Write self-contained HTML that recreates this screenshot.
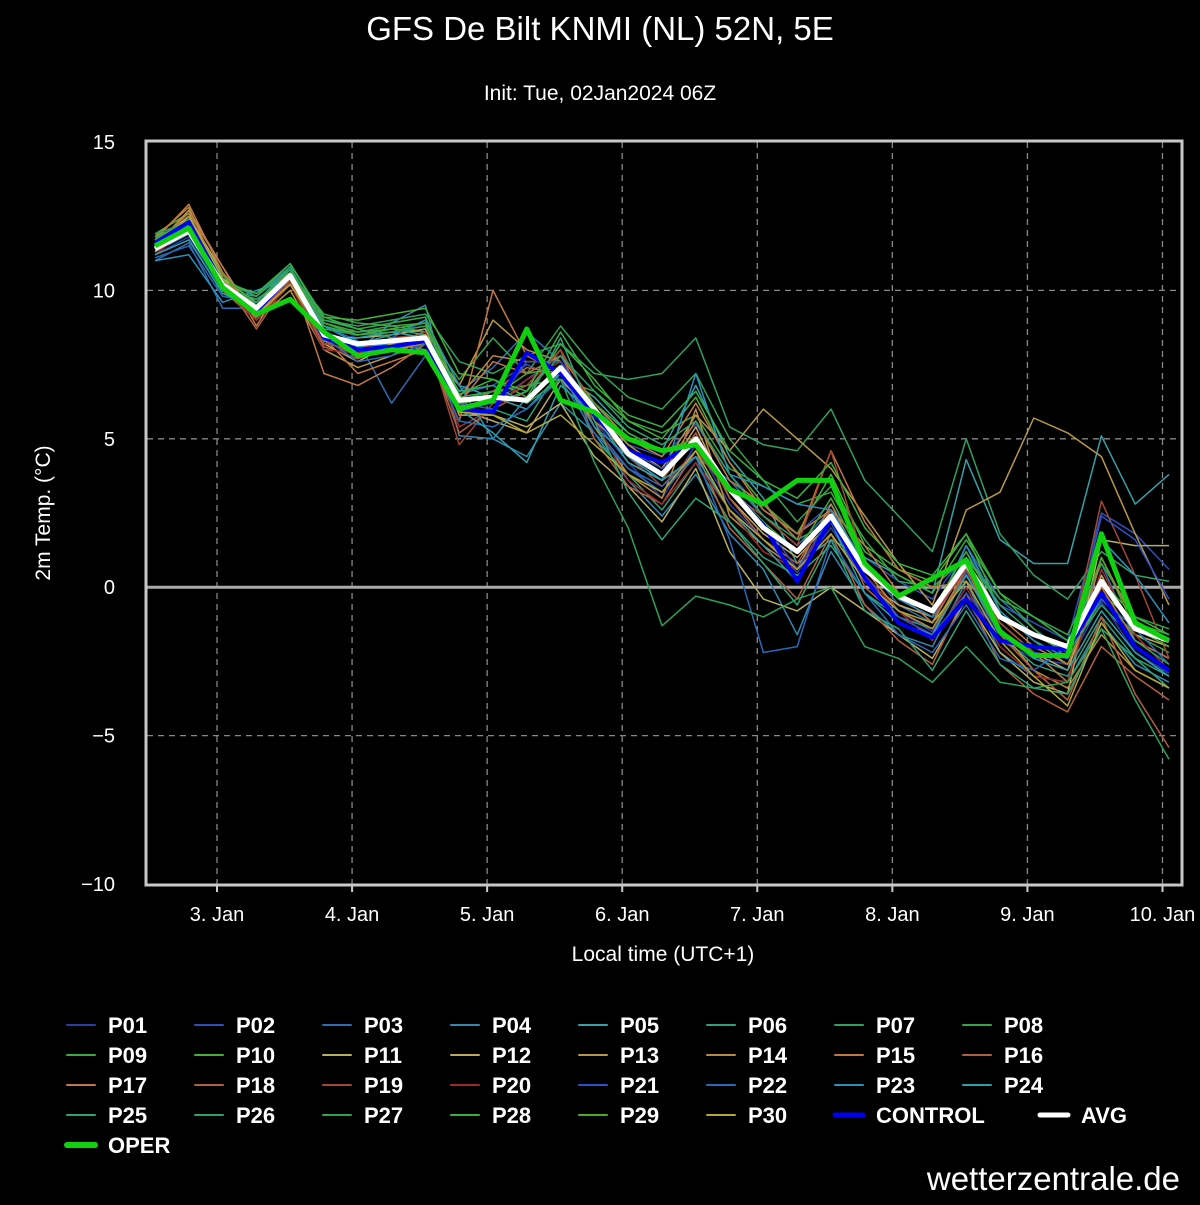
<!DOCTYPE html>
<html><head><meta charset="utf-8"><style>
html,body{margin:0;padding:0;background:#000;}
body{width:1200px;height:1200px;overflow:hidden;position:relative;font-family:"Liberation Sans",sans-serif;}
</style></head><body>
<svg id="chart" width="1200" height="1200" xmlns="http://www.w3.org/2000/svg" font-family="Liberation Sans, sans-serif">
<rect width="1200" height="1200" fill="#000"/>
<text x="600" y="40" fill="#fff" font-size="33" text-anchor="middle">GFS De Bilt KNMI (NL) 52N, 5E</text>
<text x="600" y="100" fill="#fff" font-size="21" text-anchor="middle">Init: Tue, 02Jan2024 06Z</text>
<text transform="translate(50,513) rotate(-90)" fill="#fff" font-size="21" text-anchor="middle">2m Temp. (°C)</text>
<text x="663" y="961" fill="#fff" font-size="21" text-anchor="middle">Local time (UTC+1)</text>
<text x="1180" y="1190" fill="#fff" font-size="33" text-anchor="end">wetterzentrale.de</text>
<g id="grid"></g><g id="series"></g><g id="axes"></g><g id="legend"></g>
</svg>
<script>
const yTicks=[15,10,5,0,-5,-10];
const dayLabels=["3. Jan","4. Jan","5. Jan","6. Jan","7. Jan","8. Jan","9. Jan","10. Jan"];
const oper=[11.5,12.1,10.1,9.2,9.7,8.6,7.8,8.0,7.9,6.0,6.3,8.7,6.3,5.9,5.0,4.6,4.8,3.3,2.8,3.6,3.6,0.8,-0.3,0.3,0.9,-1.5,-2.3,-2.3,1.8,-1.2,-1.8];
const avg=[11.4,12.0,10.2,9.4,10.5,8.5,8.2,8.3,8.4,6.3,6.4,6.3,7.4,6.0,4.5,3.8,5.0,3.3,2.0,1.2,2.4,0.6,-0.3,-0.8,0.8,-1.0,-1.6,-2.0,0.2,-1.4,-1.8];
const control=[11.6,12.3,10.2,9.3,10.5,8.4,8.0,8.1,8.3,6.0,5.9,7.9,7.2,5.8,4.6,4.2,4.9,3.3,2.1,0.2,2.3,0.3,-1.2,-1.7,-0.4,-1.8,-2.0,-2.1,-0.2,-2.0,-2.8];
const members=[
[11.2,11.8,10.0,9.6,10.4,8.2,8.5,8.6,8.8,6.0,6.2,7.0,7.8,5.6,4.2,3.0,4.8,2.8,1.6,0.5,2.0,0.2,-0.8,-1.5,0.5,-1.8,-2.4,-2.6,-0.5,-2.2,-2.9],
[11.5,12.4,10.4,9.0,10.6,8.0,7.9,8.4,9.0,6.5,6.8,7.5,7.0,6.2,4.8,4.4,5.5,3.8,2.6,1.8,2.8,1.0,0.2,-0.4,1.2,-0.6,-1.2,-1.8,2.5,1.8,0.6],
[11.0,11.6,9.4,9.4,10.2,8.8,8.3,6.2,7.8,6.6,7.4,8.6,7.6,5.4,4.0,3.2,4.4,3.6,2.4,1.4,2.6,0.8,-0.6,-1.2,1.4,-0.4,-1.4,-2.2,0.8,-1.8,-2.4],
[11.3,11.9,10.3,9.8,10.8,8.4,8.0,8.9,9.5,5.1,5.0,4.4,6.2,5.2,3.6,2.4,3.8,1.8,0.6,-1.6,1.2,-0.6,-1.6,-2.0,0.2,-2.2,-3.0,-3.2,-1.2,-2.6,-3.2],
[11.6,12.2,10.6,9.2,10.4,8.6,8.1,8.2,8.0,6.8,6.4,6.0,7.2,6.4,5.2,4.6,6.8,4.4,3.0,0.8,1.6,1.0,0.4,-0.2,4.3,1.6,0.8,0.8,5.1,2.8,3.8],
[11.4,12.0,10.1,9.6,10.7,8.7,8.6,8.7,8.6,6.2,6.0,5.6,7.4,5.0,3.8,2.6,4.2,2.2,1.0,0.4,1.4,-0.2,-1.0,-1.4,0.4,-1.6,-2.6,-3.0,-1.0,-2.4,-3.0],
[11.8,12.3,10.4,9.8,10.9,9.0,8.8,9.0,9.2,7.6,7.2,7.8,8.2,7.2,7.0,7.2,8.4,5.4,4.8,4.6,6.0,3.6,2.4,1.2,5.0,1.8,0.4,-0.4,1.2,0.4,0.2],
[11.9,12.1,10.2,9.9,10.6,9.2,8.9,8.8,8.6,7.0,8.4,7.2,8.8,7.4,6.4,6.0,7.2,5.0,3.6,2.2,3.4,1.6,0.2,0.0,1.0,-0.4,-1.0,-1.6,0.8,-1.0,-1.4],
[11.7,12.2,10.3,9.5,10.6,8.9,8.6,8.8,8.9,6.4,6.6,6.8,7.0,6.6,5.6,5.2,5.8,4.0,3.4,2.8,3.2,1.2,0.4,-0.2,1.6,-0.2,-1.4,-2.4,-0.4,-1.6,-2.2],
[11.9,12.6,10.0,9.7,10.4,9.1,9.0,9.2,9.4,7.2,7.0,6.4,8.2,7.0,5.6,5.0,6.4,4.2,2.8,1.8,3.8,1.4,0.6,0.2,1.8,-0.8,-1.8,-2.6,-0.2,-1.2,-1.6],
[11.4,12.0,10.4,9.6,10.6,8.4,8.4,8.5,8.7,5.8,5.8,5.4,6.2,4.4,3.4,2.2,4.0,1.2,-0.4,-0.8,0.0,-0.8,-1.6,-2.4,-0.4,-2.2,-3.2,-3.6,1.6,1.4,1.4],
[11.6,12.5,10.6,9.2,10.2,8.2,7.6,8.2,8.6,6.0,5.6,5.2,7.0,5.8,4.4,3.6,5.4,3.0,1.8,1.0,2.2,0.2,-0.6,-1.0,0.6,-1.2,-2.2,-2.8,0.4,-1.6,-2.0],
[11.5,12.7,10.8,9.0,10.0,8.0,7.4,7.8,8.4,6.8,9.0,8.0,7.6,6.0,4.8,4.0,5.8,4.6,6.0,5.0,4.0,2.4,0.8,-0.6,2.6,3.2,5.7,5.2,4.4,1.8,-0.6],
[11.8,12.8,10.2,9.4,10.4,8.6,7.8,8.0,8.2,6.4,7.8,7.6,7.6,5.4,3.8,3.0,6.0,2.4,1.4,0.6,2.8,0.6,-0.8,-1.4,0.6,-1.4,-2.8,-3.4,-1.6,-2.8,-3.4],
[11.7,12.9,10.6,9.1,10.2,8.4,7.2,7.6,8.0,5.6,10.0,7.8,7.2,5.6,4.6,3.8,5.6,3.6,2.8,1.6,4.6,2.2,0.6,0.0,0.2,-1.0,-2.0,-2.6,0.0,-1.8,-2.4],
[11.3,12.2,10.0,9.0,10.3,8.1,7.7,8.1,8.3,5.2,6.0,6.6,8.0,5.0,3.4,2.8,4.6,2.0,0.8,-0.4,1.8,-0.6,-1.8,-2.6,-0.2,-2.6,-3.6,-4.2,-2.0,-3.0,-3.8],
[11.6,12.6,10.8,8.8,10.6,7.2,6.8,7.4,8.2,6.2,7.6,7.2,7.8,6.2,5.0,4.4,6.2,4.2,2.6,1.8,2.6,1.4,-0.2,-1.2,0.8,-1.2,-2.2,-3.2,1.0,-1.2,-1.8],
[11.4,12.3,10.4,8.7,10.4,8.3,7.8,8.0,8.3,6.1,6.6,7.4,7.2,5.8,4.2,3.6,5.2,3.0,1.6,0.8,2.6,0.0,-1.0,-1.6,0.6,-1.6,-2.8,-3.8,-1.0,-3.6,-5.4],
[11.3,12.0,10.3,9.2,10.3,8.2,8.0,8.4,8.5,4.8,6.2,6.8,8.0,6.0,4.4,3.4,4.6,3.2,2.4,1.4,4.6,0.8,-0.4,-1.0,0.6,-1.2,-2.2,-2.4,2.9,0.4,-2.4],
[11.2,12.1,10.1,9.0,10.2,8.0,7.9,8.1,8.6,5.4,6.0,7.0,7.6,5.6,3.6,2.8,4.2,2.6,1.2,0.6,2.2,0.4,-0.8,-1.8,0.0,-2.0,-3.0,-3.2,0.6,-1.6,-2.8],
[11.7,12.4,10.3,9.4,10.6,8.6,8.2,8.2,8.4,6.2,6.0,7.6,7.6,6.0,4.6,4.0,4.8,3.4,2.2,0.6,2.4,0.4,-1.0,-1.6,-0.2,-1.6,-2.2,-2.4,2.4,1.6,-0.4],
[11.1,11.5,9.8,9.6,10.4,8.4,7.6,7.8,8.2,5.6,5.4,6.0,7.0,5.2,4.0,3.4,4.4,1.6,-2.2,-2.0,1.6,-0.2,-1.6,-2.2,-0.6,-2.4,-2.8,-2.0,-0.4,-1.4,-2.6],
[11.0,11.2,9.6,10.0,10.4,8.8,8.2,8.5,9.0,6.8,5.0,6.4,7.2,5.4,4.4,3.6,7.2,3.8,3.4,2.8,2.6,0.8,-0.4,-1.0,1.4,-0.8,-1.8,-2.4,1.6,0.4,-1.2],
[11.2,11.7,9.9,9.4,10.5,8.3,8.4,8.6,8.4,6.0,5.2,4.2,6.8,5.8,4.2,3.6,4.4,2.6,1.4,0.2,2.2,-0.2,-1.2,-1.6,0.4,-1.4,-2.4,-2.8,-0.8,-2.2,-3.0],
[11.5,12.0,10.2,9.6,10.8,8.8,8.5,8.7,8.5,6.6,6.8,6.2,8.4,5.6,3.2,1.6,3.0,2.2,0.8,-0.6,1.6,-0.8,-1.4,-2.8,-0.8,-2.6,-3.4,-3.6,-1.4,-2.4,-3.4],
[11.6,12.1,10.0,9.8,10.7,9.0,8.7,8.4,8.2,6.4,6.2,6.6,7.8,6.6,5.4,4.8,5.6,3.8,2.4,1.6,2.2,0.6,-0.2,-0.8,1.0,-0.6,-1.6,-2.2,-0.6,-1.8,-2.6],
[11.9,12.3,10.1,9.7,10.5,8.7,8.5,8.6,8.8,6.3,6.6,6.2,7.0,4.2,2.0,-1.3,-0.3,-0.6,-1.0,-0.4,0.0,-2.0,-2.4,-3.2,-2.0,-3.2,-3.4,-3.2,-1.4,-3.8,-5.8],
[11.8,12.2,10.3,9.9,10.9,9.1,8.7,8.9,9.1,6.5,7.0,6.6,8.6,6.8,5.8,5.4,6.6,4.6,3.6,3.0,4.2,2.0,0.8,0.4,1.8,-0.2,-1.0,-1.8,0.2,-1.0,-1.6],
[11.7,12.4,10.5,9.5,10.6,8.9,8.5,8.7,8.9,6.2,6.4,7.2,7.4,6.2,5.2,4.6,5.0,3.4,2.2,1.2,3.0,0.8,-0.2,-0.8,1.2,-1.0,-1.6,-2.2,1.0,-1.4,-2.0],
[11.3,12.5,10.4,9.2,10.2,8.5,7.8,8.2,8.5,5.9,5.8,5.2,5.8,4.8,3.8,3.2,4.6,2.6,1.6,0.6,1.8,0.2,-0.8,-1.2,0.2,-1.8,-3.0,-4.0,-1.2,-2.8,-3.4]
];
const memberColors=["#2a3fa8","#2c4fb8","#2f6cb0","#3388b0","#36a0a8","#2fa07c","#2fa060","#36a24c","#3aa83e","#46b034","#b8b060","#c0a860","#b89848","#b88a40","#c07840","#b06040","#c07848","#b06040","#a04834","#982c2c","#2c50c8","#2a68b8","#2a90b8","#30a0a8","#2ea478","#2ea068","#2ea058","#38b040","#48a830","#b0a838"];
const NS="http://www.w3.org/2000/svg";
const L=147,R=1181,T=142,B=884;
const t0=155,dt=(1169-155)/30;
function xs(i){return t0+i*dt;}
function ys(v){return T+(15-v)*(B-T)/25;}
function dayX(d){return 217+d*135.07;}
function mk(tag,attrs,parent){const e=document.createElementNS(NS,tag);for(const k in attrs)e.setAttribute(k,attrs[k]);parent.appendChild(e);return e;}
const grid=document.getElementById('grid'),axes=document.getElementById('axes'),ser=document.getElementById('series'),leg=document.getElementById('legend');
yTicks.forEach(v=>{
  if(v!==15&&v!==-10&&v!==0){const g=mk('line',{x1:L,x2:R,y1:ys(v),y2:ys(v),stroke:'#888','stroke-dasharray':'6,5','stroke-width':1.3},grid);
  
  }
  const t=mk('text',{x:115,y:ys(v)+7,fill:'#fff','font-size':20,'text-anchor':'end'},axes);t.textContent=v===-10?'−10':(v===-5?'−5':v);
  
  
});
dayLabels.forEach((d,i)=>{
  const g=mk('line',{x1:dayX(i),x2:dayX(i),y1:T,y2:B,stroke:'#888','stroke-dasharray':'6,5','stroke-width':1.3},grid);
  
  
  const t=mk('text',{x:dayX(i),y:921,fill:'#fff','font-size':20,'text-anchor':'middle'},axes);t.textContent=d;
  
  
  const tk=mk('line',{x1:dayX(i),x2:dayX(i),y1:B,y2:B+8,stroke:'#ccc','stroke-width':2},axes);
  
  
});
const zl=mk('line',{x1:L,x2:R,y1:ys(0),y2:ys(0),stroke:'#aaa','stroke-width':3},grid);


function pts(a){return a.map((v,i)=>xs(i).toFixed(1)+','+ys(v).toFixed(1)).join(' ');}
members.forEach((m,k)=>{
  const p=mk('polyline',{points:pts(m),fill:'none',stroke:memberColors[k],'stroke-width':1.5,'stroke-linejoin':'round'},ser);
  
  
});
const pc=mk('polyline',{points:pts(control),fill:'none',stroke:'#0000f0','stroke-width':4,'stroke-linejoin':'round'},ser);


const pa=mk('polyline',{points:pts(avg),fill:'none',stroke:'#fff','stroke-width':5,'stroke-linejoin':'round'},ser);


const po=mk('polyline',{points:pts(oper),fill:'none',stroke:'#10d010','stroke-width':5,'stroke-linejoin':'round'},ser);


const fr=mk('rect',{x:L-1,y:T-1,width:R-L+2,height:B-T+2,fill:'none',stroke:'#c8c8c8','stroke-width':3},axes);


const names=[],cols=[],widths=[];
for(let i=0;i<30;i++){names.push('P'+String(i+1).padStart(2,'0'));cols.push(memberColors[i]);widths.push(2);}
names.push('CONTROL');cols.push('#0000f0');widths.push(5);
names.push('AVG');cols.push('#fff');widths.push(5);
names.push('OPER');cols.push('#10d010');widths.push(6);
names.forEach((n,i)=>{
  const r=Math.floor(i/8),c=i%8;let x=57+c*128;const y=1025+r*30;
  if(n==='AVG')x=1030;
  const g=mk('g',{},leg);
  
  
  mk('line',{x1:x+10,x2:x+38,y1:y,y2:y,stroke:cols[i],'stroke-width':widths[i],'stroke-linecap':'round'},g);
  const t=mk('text',{x:x+51,y:y+8,fill:'#fff','font-size':22,'font-weight':'bold'},g);t.textContent=n;
});
</script>
</body></html>
